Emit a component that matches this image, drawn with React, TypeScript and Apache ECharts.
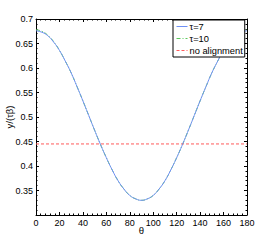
import React, { useEffect, useRef } from "react";
import * as echarts from "echarts";

const theta = [0, 5, 10, 15, 20, 25, 30, 35, 40, 45, 50, 55, 60, 65, 70, 75, 80, 85, 90, 95, 100, 105, 110, 115, 120, 125, 130, 135, 140, 145, 150, 155, 160, 165, 170, 175, 180];
const tau7 = [0.676, 0.673, 0.666, 0.653, 0.636, 0.614, 0.59, 0.562, 0.533, 0.503, 0.473, 0.444, 0.417, 0.392, 0.37, 0.353, 0.34, 0.333, 0.33, 0.333, 0.34, 0.353, 0.37, 0.392, 0.417, 0.444, 0.473, 0.503, 0.533, 0.562, 0.59, 0.614, 0.636, 0.653, 0.666, 0.673, 0.676];
const tau10 = [0.678, 0.675, 0.667, 0.654, 0.636, 0.614, 0.59, 0.562, 0.533, 0.503, 0.473, 0.444, 0.417, 0.392, 0.37, 0.353, 0.34, 0.333, 0.33, 0.333, 0.34, 0.353, 0.37, 0.392, 0.417, 0.444, 0.473, 0.503, 0.533, 0.562, 0.59, 0.614, 0.636, 0.654, 0.667, 0.675, 0.678];
const noAlignment = 0.445;
const seriesNames = ["τ=7", "τ=10", "no alignment"];

const FONT = "Liberation Sans, Arial, sans-serif";

export default function App() {
  const ref = useRef<HTMLDivElement>(null);
  useEffect(() => {
    if (!ref.current) return;
    const chart = echarts.init(ref.current, null, { renderer: "svg" });
    const axisCommon = {
      axisLine: { show: true, onZero: false, lineStyle: { color: "#000", width: 1 } },
      axisTick: { show: true, inside: true, length: 3, lineStyle: { color: "#000" } },
      minorTick: { show: true, splitNumber: 5, length: 1.5, lineStyle: { color: "#000" } },
      splitLine: { show: false },
    };
    chart.setOption({
      animation: false,
      backgroundColor: "#fff",
      grid: { left: 36, right: 27, top: 19, bottom: 27, containLabel: false, outerBoundsMode: "none" },
      legend: {
        orient: "vertical",
        left: 173,
        top: 20,
        padding: [2, 2, 2, 3],
        itemGap: 3,
        itemWidth: 11,
        itemHeight: 10,
        backgroundColor: "#fff",
        borderColor: "#000",
        borderWidth: 1,
        borderRadius: 0,
        data: seriesNames,
        lineStyle: { width: 1 },
        textStyle: { fontFamily: FONT, fontSize: 9.3, color: "#000", padding: [0, 0, 0, -3] },
      },
      xAxis: [
        {
          type: "value",
          min: 0,
          max: 180,
          interval: 20,
          name: "θ",
          nameLocation: "middle",
          nameGap: 10,
          nameMoveOverlap: false,
          nameTextStyle: { fontFamily: FONT, fontSize: 9.5, color: "#000" },
          axisLabel: { fontFamily: FONT, fontSize: 9, color: "#000", margin: 3 },
          ...axisCommon,
        },
        {
          type: "value",
          position: "top",
          min: 0,
          max: 180,
          interval: 20,
          axisLabel: { show: false },
          ...axisCommon,
        },
      ],
      yAxis: [
        {
          type: "value",
          min: 0.3,
          max: 0.7,
          interval: 0.05,
          name: "y/(τβ)",
          nameLocation: "middle",
          nameGap: 22,
          nameMoveOverlap: false,
          nameTextStyle: { fontFamily: FONT, fontSize: 9.5, color: "#000" },
          axisLabel: {
            fontFamily: FONT,
            fontSize: 9,
            color: "#000",
            margin: 3,
            formatter: (v: number) => (Math.abs(v - 0.3) < 1e-6 ? "" : String(+v.toFixed(2))),
          },
          ...axisCommon,
        },
        {
          type: "value",
          position: "right",
          min: 0.3,
          max: 0.7,
          interval: 0.05,
          axisLabel: { show: false },
          ...axisCommon,
        },
      ],
      series: [
        {
          name: seriesNames[0],
          type: "line",
          data: theta.map((t, i) => [t, tau7[i]]),
          smooth: true,
          symbol: "none",
          lineStyle: { color: "#6f90f5", width: 1 },
          itemStyle: { color: "#6f90f5", opacity: 0 },
          z: 3,
        },
        {
          name: seriesNames[1],
          type: "line",
          data: theta.map((t, i) => [t, tau10[i]]),
          smooth: true,
          symbol: "none",
          lineStyle: { color: "#5cc85c", width: 1, type: [4, 2, 1, 2] },
          itemStyle: { color: "#5cc85c", opacity: 0 },
          z: 2,
        },
        {
          name: seriesNames[2],
          type: "line",
          data: [
            [0, noAlignment],
            [180, noAlignment],
          ],
          symbol: "none",
          lineStyle: { color: "#ff5a5a", width: 1, type: [3, 2] },
          itemStyle: { color: "#ff5a5a", opacity: 0 },
          z: 2,
        },
      ],
    });
    return () => chart.dispose();
  }, []);
  return <div ref={ref} style={{ position: "fixed", left: 0, top: 0, width: 274, height: 242 }} />;
}
